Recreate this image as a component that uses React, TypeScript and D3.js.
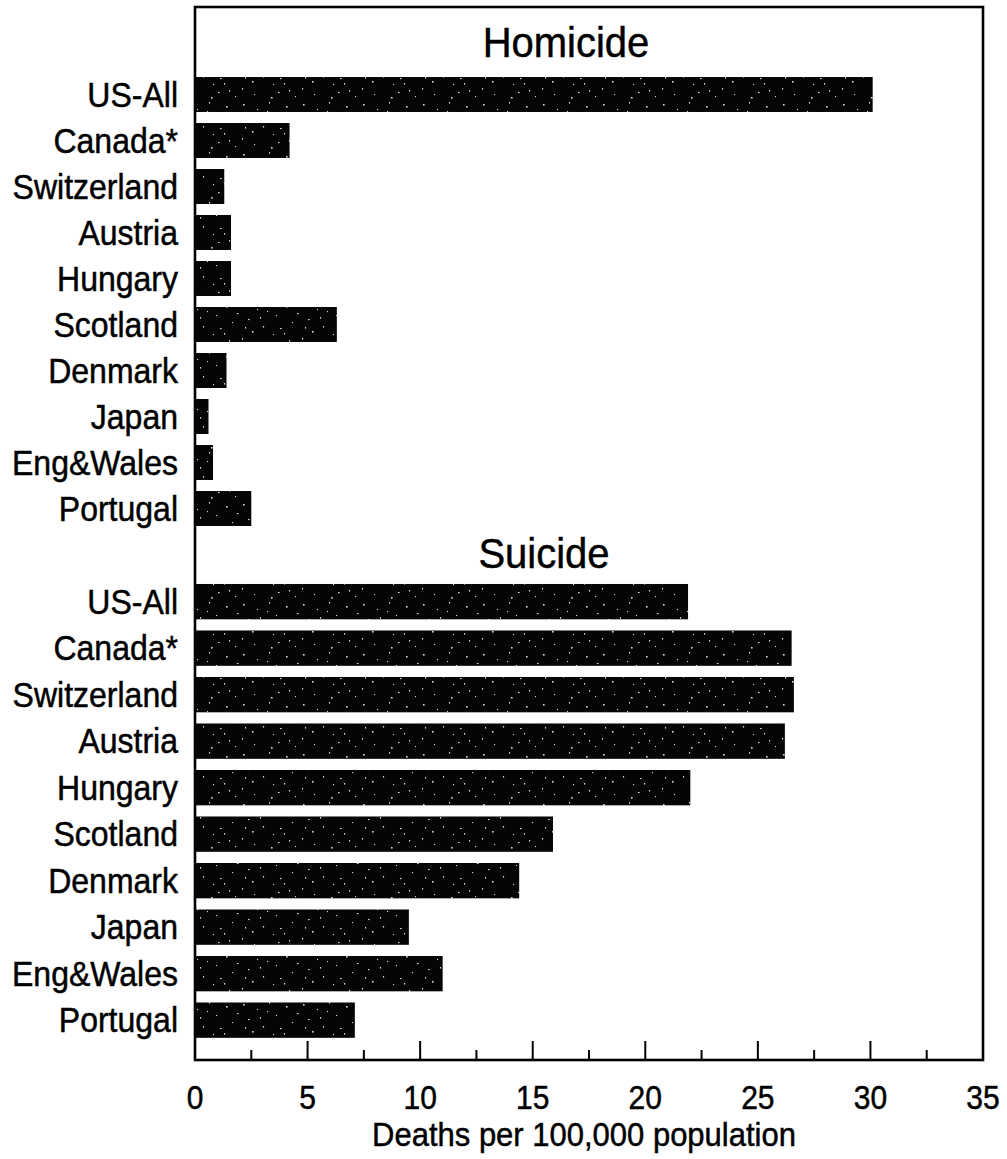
import React from "react";
import * as d3 from "d3";

const countries = ["US-All", "Canada*", "Switzerland", "Austria", "Hungary", "Scotland", "Denmark", "Japan", "Eng&Wales", "Portugal"];
const homicide = [30.1, 4.2, 1.3, 1.6, 1.6, 6.3, 1.4, 0.6, 0.8, 2.5];
const suicide = [21.9, 26.5, 26.6, 26.2, 22.0, 15.9, 14.4, 9.5, 11.0, 7.1];
const xTicks = [0, 5, 10, 15, 20, 25, 30, 35];
const minorTicks = [2.5, 7.5, 12.5, 17.5, 22.5, 27.5, 32.5];
const panelTitles = ["Homicide", "Suicide"];
const xTitle = "Deaths per 100,000 population";

const W = 1007;
const H = 1159;
const left = 195;
const right = 983;
const top = 7;
const bottom = 1060;
const FONT = "'Liberation Sans', Arial, Helvetica, sans-serif";

// deterministic speckle positions inside the pattern tile (texture only)
const speckles = [
  [3, 4], [17, 9], [29, 2], [8, 19], [23, 26], [36, 15], [12, 31], [33, 34], [5, 27], [40, 28], [20, 17], [27, 11],
  [46, 6], [52, 22], [44, 33], [57, 13], [49, 40], [14, 44], [31, 47], [55, 46], [2, 38], [38, 42],
];

function Label(props: { x: number; y: number; anchor: string; size: number; children: React.ReactNode; sy?: number }) {
  const sy = props.sy ?? 1.08;
  return (
    <text
      transform={`translate(${props.x},${props.y}) scale(1,${sy})`}
      textAnchor={props.anchor as any}
      fontSize={props.size}
      fill="#000"
      stroke="#000"
      strokeWidth={0.45}
    >
      {props.children}
    </text>
  );
}

export default function App() {
  const x = d3.scaleLinear().domain([0, 35]).range([left, right]);
  const yH = d3.scaleBand<string>().domain(countries).range([71.5, 531.5]).paddingInner(0.24).paddingOuter(0.12);
  const yS = d3.scaleBand<string>().domain(countries).range([578.4, 1043.4]).paddingInner(0.24).paddingOuter(0.12);

  const groups = [
    { title: panelTitles[0], values: homicide, y: yH, tx: 566, ty: 57 },
    { title: panelTitles[1], values: suicide, y: yS, tx: 544, ty: 568 },
  ];

  return (
    <svg width={W} height={H} style={{ position: "absolute", left: 0, top: 0, background: "#fff" }} fontFamily={FONT}>
      <defs>
        <pattern id="spk" width="60" height="50" patternUnits="userSpaceOnUse">
          <rect width="60" height="50" fill="#050505" />
          {speckles.map(([a, b], i) => (
            <rect key={i} x={a} y={b} width={i % 3 === 0 ? 1.6 : 1.1} height={i % 2 === 0 ? 1.6 : 1.1} fill="#d8d8d8" />
          ))}
        </pattern>
      </defs>
      <rect x={0} y={0} width={W} height={H} fill="#fff" />
      {/* frame */}
      <rect x={left} y={top} width={right - left} height={bottom - top} fill="none" stroke="#000" strokeWidth={2.6} />
      {groups.map((g) => (
        <g key={g.title}>
          <Label x={g.tx} y={g.ty} anchor="middle" size={40} sy={1.05}>{g.title}</Label>
          {countries.map((c, i) => (
            <g key={c}>
              <rect
                x={x(0)}
                y={g.y(c)!}
                width={x(g.values[i]) - x(0)}
                height={g.y.bandwidth()}
                fill="url(#spk)"
              />
              <Label x={178} y={g.y(c)! + g.y.bandwidth() / 2 + 12} anchor="end" size={32}>
                {c}
              </Label>
            </g>
          ))}
        </g>
      ))}
      {/* axis ticks */}
      {xTicks.map((t) => (
        <g key={t}>
          <line x1={x(t)} x2={x(t)} y1={bottom} y2={bottom - 19} stroke="#000" strokeWidth={2} />
          <Label x={x(t)} y={1109} anchor="middle" size={30} sy={1.12}>{t}</Label>
        </g>
      ))}
      {minorTicks.map((t) => (
        <line key={t} x1={x(t)} x2={x(t)} y1={bottom} y2={bottom - 10} stroke="#000" strokeWidth={2} />
      ))}
      <Label x={(x(0) + x(35)) / 2 - 5} y={1146} anchor="middle" size={31} sy={1.08}>{xTitle}</Label>
    </svg>
  );
}
